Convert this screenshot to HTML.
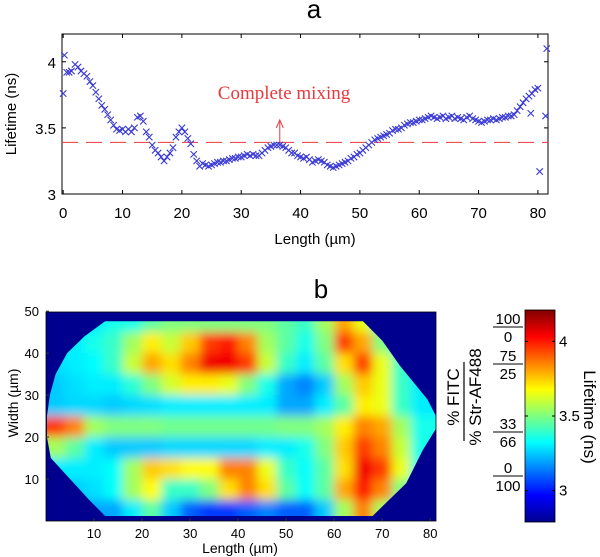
<!DOCTYPE html>
<html><head><meta charset="utf-8"><style>
html,body{margin:0;padding:0;background:#fff}
svg{display:block;font-family:"Liberation Sans",sans-serif}
</style></head><body>
<svg id="fig" width="600" height="557" viewBox="0 0 600 557" xmlns="http://www.w3.org/2000/svg">
<defs>
<filter id="blur" x="-10%" y="-10%" width="120%" height="120%"><feGaussianBlur stdDeviation="5"/></filter>
<linearGradient id="jet" x1="0" y1="1" x2="0" y2="0">
<stop offset="0" stop-color="#00008f"/><stop offset="0.125" stop-color="#0000ff"/><stop offset="0.375" stop-color="#00ffff"/><stop offset="0.625" stop-color="#ffff00"/><stop offset="0.875" stop-color="#ff0000"/><stop offset="1" stop-color="#800000"/>
</linearGradient>
</defs>
<text x="314" y="18" font-size="26" text-anchor="middle">a</text>
<text x="321" y="298" font-size="26" text-anchor="middle">b</text>
<g id="top"></g>
<g id="bot"></g>
</svg>
<script>
// ---------- Panel a data ----------
const lenX = [0,0.2,0.6,1,1.4,2,2.5,3,3.5,4,4.5,5,5.5,6,6.5,7,7.5,8,8.5,9,9.5,10,10.5,11,11.5,12,12.5,13,13.5,14,14.5,15,15.5,16,16.5,17,17.5,18,18.5,19,19.5,20,20.5,21,21.5,22,22.5,23,23.5,24,24.5,25,25.5,26,26.5,27,27.5,28,28.5,29,29.5,30,30.5,31,31.5,32,32.5,33,33.5,34,34.5,35,35.5,36,36.5,37,37.5,38,38.5,39,39.5,40,40.5,41,41.5,42,42.5,43,43.5,44,44.5,45,45.5,46,46.5,47,47.5,48,48.5,49,49.5,50,50.5,51,51.5,52,52.5,53,53.5,54,54.5,55,55.5,56,56.5,57,57.5,58,58.5,59,59.5,60,60.5,61,61.5,62,62.5,63,63.5,64,64.5,65,65.5,66,66.5,67,67.5,68,68.5,69,69.5,70,70.5,71,71.5,72,72.5,73,73.5,74,74.5,75,75.5,76,76.5,77,77.5,78,78.5,78.8,79,79.5,80,80.3,81.3,81.5];
const lifetime = [3.76,4.05,3.92,3.92,3.93,3.98,3.96,3.93,3.91,3.89,3.85,3.82,3.77,3.72,3.67,3.64,3.6,3.56,3.52,3.49,3.48,3.49,3.47,3.49,3.47,3.5,3.58,3.59,3.55,3.47,3.43,3.37,3.33,3.31,3.28,3.25,3.28,3.31,3.35,3.43,3.47,3.5,3.47,3.42,3.38,3.3,3.25,3.21,3.23,3.22,3.21,3.22,3.23,3.24,3.24,3.25,3.25,3.26,3.27,3.27,3.28,3.28,3.29,3.3,3.29,3.3,3.29,3.29,3.31,3.33,3.35,3.36,3.37,3.37,3.37,3.36,3.35,3.33,3.31,3.31,3.29,3.28,3.27,3.28,3.26,3.24,3.25,3.26,3.25,3.24,3.22,3.21,3.2,3.21,3.22,3.23,3.24,3.25,3.27,3.28,3.3,3.31,3.33,3.35,3.37,3.39,3.41,3.42,3.43,3.44,3.45,3.46,3.48,3.49,3.49,3.5,3.52,3.53,3.54,3.54,3.55,3.56,3.56,3.57,3.58,3.59,3.58,3.57,3.58,3.59,3.57,3.58,3.59,3.57,3.58,3.57,3.56,3.58,3.59,3.57,3.56,3.55,3.54,3.55,3.56,3.56,3.57,3.56,3.57,3.58,3.58,3.59,3.59,3.6,3.63,3.66,3.69,3.72,3.74,3.61,3.76,3.79,3.8,3.17,3.59,4.1];
const topXTicks = [0,10,20,30,40,50,60,70,80];
const topYTicks = [3,3.5,4];
const mixLevel = 3.39;
const arrowX = 36.5, arrowTop = 3.56;

// ---------- Panel b data ----------
const colCenters = [2,6,10,14,18,22,26,30,34,38,42,46,50,54,58,62,66,70,74,78];
const rowCenters = [47.5,42.5,37.5,32.5,27.5,22.5,17.5,12.5,7.5,2.5];
const heat = [
[3.3,3.3,3.3,3.35,3.35,3.45,3.5,3.5,3.5,3.5,3.5,3.5,3.45,3.4,3.55,3.8,3.65,3.4,3.3,3.3],
[3.3,3.3,3.35,3.4,3.55,3.7,3.6,3.75,3.95,4.0,3.85,3.55,3.45,3.35,3.5,3.95,3.8,3.5,3.35,3.3],
[3.28,3.3,3.32,3.4,3.6,3.8,3.72,3.85,4.05,4.05,3.95,3.6,3.4,3.3,3.45,3.72,3.95,3.65,3.4,3.3],
[3.25,3.28,3.3,3.3,3.38,3.5,3.62,3.7,3.7,3.65,3.5,3.35,3.2,3.15,3.25,3.55,3.75,3.65,3.4,3.3],
[3.25,3.27,3.27,3.25,3.27,3.28,3.3,3.3,3.3,3.3,3.3,3.3,3.2,3.2,3.3,3.45,3.7,3.65,3.4,3.3],
[3.95,3.85,3.55,3.5,3.5,3.5,3.48,3.48,3.48,3.48,3.48,3.48,3.5,3.5,3.55,3.7,3.85,3.8,3.55,3.35],
[3.55,3.45,3.3,3.25,3.25,3.25,3.27,3.27,3.27,3.27,3.27,3.3,3.3,3.35,3.5,3.75,3.95,3.85,3.6,3.35],
[3.3,3.3,3.3,3.33,3.55,3.75,3.72,3.68,3.68,3.85,3.85,3.65,3.4,3.33,3.45,3.72,4.05,3.95,3.65,3.35],
[3.3,3.25,3.28,3.33,3.55,3.68,3.4,3.4,3.5,3.72,3.85,3.72,3.45,3.33,3.45,3.8,4.0,3.85,3.5,3.3],
[3.2,3.2,3.2,3.2,3.3,3.45,3.25,3.1,3.05,3.05,3.1,3.15,3.1,3.1,3.25,3.55,3.85,3.55,3.3,3.2]];
const shapeX = [12.3,66,70,73.7,79.4,81.2,81.2,78.5,75,68,12.3,9,5,1,0.2,0.2,0.8,2,4.4,8];
const shapeY = [47.6,47.6,43,37,29,25,22,17,9,1.2,1.2,5,10,15,20,25,30,35,40,44];
const botXTicks = [10,20,30,40,50,60,70,80];
const botYTicks = [10,20,30,40,50];
const cbTicks = [3,3.5,4];
const cbMin = 2.79, cbMax = 4.21;
const fracTop = ["100","75","33","0"];
const fracBot = ["0","25","66","100"];
const fracY = [327,364,432,476];

const NS = "http://www.w3.org/2000/svg";
function mk(parent, tag, attrs, text){
  const e = document.createElementNS(NS, tag);
  for (const k in attrs) e.setAttribute(k, attrs[k]);
  if (text !== undefined) e.textContent = text;
  parent.appendChild(e); return e;
}

// ---------- Panel a ----------
const T = document.getElementById('top');
const ax = {l:62, r:548, t:34, b:194, x0:-0.2, x1:81.7, y0:3, y1:4.21};
const sx = v => ax.l + (v-ax.x0)/(ax.x1-ax.x0)*(ax.r-ax.l);
const sy = v => ax.b - (v-ax.y0)/(ax.y1-ax.y0)*(ax.b-ax.t);
let fr = mk(T,'rect',{x:ax.l,y:ax.t,width:ax.r-ax.l,height:ax.b-ax.t,fill:'none',stroke:'#000','stroke-width':1});


topXTicks.forEach(v=>{
  const x=sx(v);
  mk(T,'line',{x1:x,x2:x,y1:ax.b,y2:ax.b-4,stroke:'#000'});
  mk(T,'line',{x1:x,x2:x,y1:ax.t,y2:ax.t+4,stroke:'#000'});
  const t=mk(T,'text',{x:x,y:218,'font-size':15,'text-anchor':'middle'},String(v));
  
  
});
topYTicks.forEach(v=>{
  const y=sy(v);
  mk(T,'line',{x1:ax.l,x2:ax.l+4,y1:y,y2:y,stroke:'#000'});
  mk(T,'line',{x1:ax.r,x2:ax.r-4,y1:y,y2:y,stroke:'#000'});
  const t=mk(T,'text',{x:ax.l-6,y:y+6,'font-size':15,'text-anchor':'end'},String(v));
  
  
});
let ml=mk(T,'line',{x1:ax.l,x2:ax.r,y1:sy(mixLevel),y2:sy(mixLevel),stroke:'#e8383d','stroke-width':1,'stroke-dasharray':'16,8'});


let ar=mk(T,'line',{x1:sx(arrowX),x2:sx(arrowX),y1:sy(mixLevel),y2:sy(arrowTop)+1,stroke:'#e8383d','stroke-width':1});


mk(T,'path',{d:`M${sx(arrowX)-3.5},${sy(arrowTop)+8} L${sx(arrowX)},${sy(arrowTop)} L${sx(arrowX)+3.5},${sy(arrowTop)+8}`,fill:'none',stroke:'#e8383d','stroke-width':1});
let cm=mk(T,'text',{x:284,y:99,'font-size':19,fill:'#e8383d','text-anchor':'middle','font-family':'"Liberation Serif",serif'},'Complete mixing');


const pts = mk(T,'g',{stroke:'#3a3ad6','stroke-width':1.1});


lenX.forEach((xv,i)=>{
  const x=sx(xv), y=sy(lifetime[i]), s=3.2;
  const p=mk(pts,'path',{d:`M${x-s},${y-s}L${x+s},${y+s}M${x-s},${y+s}L${x+s},${y-s}`});
  
  
});
let tyl=mk(T,'text',{transform:`translate(16,${(ax.t+ax.b)/2}) rotate(-90)`,'font-size':15,'text-anchor':'middle'},'Lifetime (ns)');


let txl=mk(T,'text',{x:(ax.l+ax.r)/2+10,y:244,'font-size':15,'text-anchor':'middle'},'Length (\u00b5m)');



// ---------- Panel b ----------
const B = document.getElementById('bot');
const bx = {l:46, r:436, t:312, b:521, x0:0, x1:81.2, y0:0, y1:49.8};
const hx = v => bx.l + (v-bx.x0)/(bx.x1-bx.x0)*(bx.r-bx.l);
const hy = v => bx.b - (v-bx.y0)/(bx.y1-bx.y0)*(bx.b-bx.t);
function jet(v){
  const t=Math.max(0,Math.min(1,(v-cbMin)/(cbMax-cbMin)));
  const c=f=>Math.round(255*Math.max(0,Math.min(1,f)));
  return `rgb(${c(1.5-Math.abs(4*t-3))},${c(1.5-Math.abs(4*t-2))},${c(1.5-Math.abs(4*t-1))})`;
}
let bg=mk(B,'rect',{x:bx.l,y:bx.t,width:bx.r-bx.l,height:bx.b-bx.t,fill:'#00008f'});


const poly = shapeX.map((v,i)=>`${hx(v)},${hy(shapeY[i])}`).join(' ');
mk(mk(B,'clipPath',{id:'shapeclip'}),'polygon',{points:poly});
const clipG = mk(B,'g',{'clip-path':'url(#shapeclip)'});
const cellsG = mk(clipG,'g',{filter:'url(#blur)'});
const cw = hx(4)-hx(0), ch = hy(0)-hy(5);
heat.forEach((row,ri)=>{
  row.forEach((v,ci)=>{
    let x=hx(colCenters[ci])-cw/2, y=hy(rowCenters[ri])-ch/2, w=cw+0.6, h=ch+0.6;
    if(ci===0){x-=20;w+=20;} if(ci===row.length-1){w+=20;}
    if(ri===0){y-=20;h+=20;} if(ri===heat.length-1){h+=20;}
    const r=mk(cellsG,'rect',{x:x,y:y,width:w,height:h,fill:jet(v)});
    
    
  });
});
let bfr=mk(B,'rect',{x:bx.l,y:bx.t,width:bx.r-bx.l,height:bx.b-bx.t,fill:'none',stroke:'#000','stroke-width':0.8});


botXTicks.forEach(v=>{
  const x=hx(v);
  mk(B,'line',{x1:x,x2:x,y1:bx.b,y2:bx.b-3,stroke:'#333'});
  const t=mk(B,'text',{x:x,y:bx.b+17,'font-size':13,'text-anchor':'middle'},String(v));
  
  
});
botYTicks.forEach(v=>{
  const y=hy(v);
  mk(B,'line',{x1:bx.l,x2:bx.l+3,y1:y,y2:y,stroke:'#333'});
  const t=mk(B,'text',{x:bx.l-7,y:y+5,'font-size':13,'text-anchor':'end'},String(v));
  
  
});
let bxl=mk(B,'text',{x:240,y:553,'font-size':14,'text-anchor':'middle'},'Length (\u00b5m)');


let byl=mk(B,'text',{transform:`translate(18,403) rotate(-90)`,'font-size':14,'text-anchor':'middle'},'Width (\u00b5m)');


// FITC ratio label
let f1=mk(B,'text',{transform:'translate(459,397) rotate(-90)','font-size':17,'text-anchor':'middle'},'% FITC');


mk(B,'line',{x1:464,x2:464,y1:362,y2:441,stroke:'#000','stroke-width':1.2});
let f2=mk(B,'text',{transform:'translate(481,397) rotate(-90)','font-size':17,'text-anchor':'middle'},'% Str-AF488');


fracTop.forEach((tp,i)=>{
  const y=fracY[i];
  const a=mk(B,'text',{x:508,y:y-3,'font-size':15,'text-anchor':'middle'},tp);
  
  
  mk(B,'line',{x1:493,x2:523,y1:y,y2:y,stroke:'#000','stroke-width':1});
  const b=mk(B,'text',{x:508,y:y+15,'font-size':15,'text-anchor':'middle'},fracBot[i]);
  
  
});
// colorbar
const cb={l:525,r:555,t:310,b:522};
const cy = v => cb.b - (v-cbMin)/(cbMax-cbMin)*(cb.b-cb.t);
let cbr=mk(B,'rect',{x:cb.l,y:cb.t,width:cb.r-cb.l,height:cb.b-cb.t,fill:'url(#jet)',stroke:'#000','stroke-width':0.8});


cbTicks.forEach(v=>{
  const y=cy(v);
  mk(B,'line',{x1:cb.r,x2:cb.r-3,y1:y,y2:y,stroke:'#000'});
  mk(B,'line',{x1:cb.l,x2:cb.l+3,y1:y,y2:y,stroke:'#000'});
  const t=mk(B,'text',{x:cb.r+4,y:y+5,'font-size':15},String(v));
  
  
});
let cbl=mk(B,'text',{transform:'translate(584,417) rotate(90)','font-size':17,'text-anchor':'middle'},'Lifetime (ns)');


</script>
</body></html>
